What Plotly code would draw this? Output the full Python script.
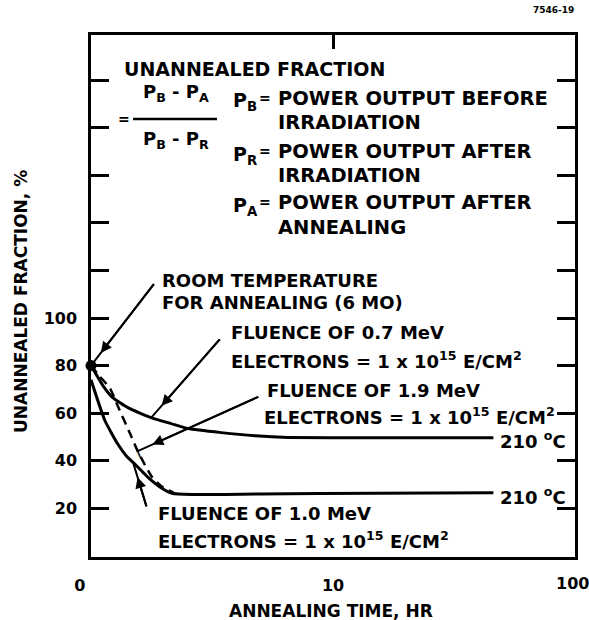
import math
import plotly.graph_objects as go

# Annealing time (hr) and unannealed fraction (%) for each electron fluence
time_07mev = [1, 1.12, 1.23, 1.42, 1.77, 2.14, 2.52, 3.45, 4.76, 6.5, 15, 46]
frac_07mev = [80, 71.6, 66.5, 62.3, 58.1, 55.6, 53.5, 51.8, 50.5, 49.8, 49.6, 49.6]

time_19mev = [1, 1.08, 1.2, 1.29, 1.45, 1.56, 1.79, 1.98, 2.2]
frac_19mev = [80, 75.8, 70.3, 63, 51.4, 44, 33, 28.8, 26.5]

time_10mev = [1, 1.14, 1.29, 1.4, 1.52, 1.72, 1.97, 2.16, 2.6, 5, 15, 46]
frac_10mev = [74, 57, 47, 42, 38.5, 33, 28.3, 26.3, 25.8, 26, 26.3, 26.5]

room_temp_time = [1]
room_temp_frac = [80]

x_tickvals = [1, 10, 100]
x_ticktext = ["0\u00a0\u00a0\u00a0\u00a0", "10", ""]
x_end_label = "100"
y_tickvals = [20, 40, 60, 80, 100, 120, 140, 160, 180, 200]
y_ticktext = ["20", "40", "60", "80", "100", "", "", "", "", ""]

W, H = 589, 620
PL, PR, PT, PB = 91, 575, 35, 557
FONT = "DejaVu Sans"


def fx(xp):
    return (xp - PL) / (PR - PL)


def fy(yp):
    return (PB - yp) / (PB - PT)


fig = go.Figure()
fig.add_trace(go.Scatter(x=time_07mev, y=frac_07mev, mode="lines",
                         line=dict(shape="spline", smoothing=0.5, color="black", width=3)))
fig.add_trace(go.Scatter(x=time_19mev, y=frac_19mev, mode="lines",
                         line=dict(shape="spline", smoothing=0.5, dash="9px,6px",
                                   color="black", width=2.5)))
fig.add_trace(go.Scatter(x=time_10mev, y=frac_10mev, mode="lines",
                         line=dict(shape="spline", smoothing=0.5, color="black", width=3)))
fig.add_trace(go.Scatter(x=room_temp_time, y=room_temp_frac, mode="markers",
                         xaxis="x2", cliponaxis=False,
                         marker=dict(color="black", size=11)))

annotations = []


def text(t, xp, yp, size=18, xanchor="left", yanchor="middle", **kw):
    annotations.append(dict(text=t, x=fx(xp), y=fy(yp), xref="paper", yref="paper",
                            xanchor=xanchor, yanchor=yanchor, showarrow=False,
                            font=dict(family=FONT, size=size, color="black", weight="bold"),
                            **kw))


def arrow(tx, ty, ax, ay):
    # plain shaft running to the curve, then a head set back from the tip
    base = dict(x=math.log10(tx), y=ty, xref="x", yref="y", axref="pixel", ayref="pixel",
                ax=ax, ay=ay, text="", showarrow=True, arrowcolor="black")
    annotations.append(dict(base, arrowhead=0, arrowwidth=2))
    annotations.append(dict(base, arrowhead=2, arrowwidth=2, arrowsize=1.1, standoff=16))


# definition block
text("UNANNEALED FRACTION", 122, 69, size=19)
text("P<sub>B</sub> - P<sub>A</sub>", 176, 93, xanchor="center")
text("P<sub>B</sub> - P<sub>R</sub>", 176, 140, xanchor="center")
text("=", 124, 119, size=14, xanchor="center")
fig.add_shape(type="line", xref="paper", yref="paper", x0=fx(133), x1=fx(217),
              y0=fy(119), y1=fy(119), line=dict(color="black", width=2.5))

for sub, yrow, lines in [("B", 98, ("POWER OUTPUT BEFORE", "IRRADIATION")),
                         ("R", 151, ("POWER OUTPUT AFTER", "IRRADIATION")),
                         ("A", 202, ("POWER OUTPUT AFTER", "ANNEALING"))]:
    text("P<sub>%s</sub>" % sub, 231, yrow + 4, size=19)
    text("=", 265, yrow, size=14, xanchor="center")
    text(lines[0], 276, yrow, size=19.5)
    text(lines[1], 276, yrow + 25, size=19.5)

# curve labels
text("ROOM TEMPERATURE", 160, 280)
text("FOR ANNEALING (6 MO)", 160, 302)
text("FLUENCE OF 0.7 MeV", 229, 332)
text("ELECTRONS = 1 x 10<sup>15</sup> E/CM<sup>2</sup>", 229, 360)
text("FLUENCE OF 1.9 MeV", 265, 390)
text("ELECTRONS = 1 x 10<sup>15</sup> E/CM<sup>2</sup>", 262, 416)
text("FLUENCE OF 1.0 MeV", 156, 513)
text("ELECTRONS = 1 x 10<sup>15</sup> E/CM<sup>2</sup>", 156, 540)
text("210 <sup>o</sup>C", 498, 440)
text("210 <sup>o</sup>C", 498, 496)

# arrows from the labels onto the curves
arrow(1.0, 80, 64, -83)
arrow(1.77, 58, 70, -80)
arrow(1.56, 44, 122, -55)
arrow(1.49, 39.5, 14, 46)
# cross bar where the 1.9 MeV pointer meets its curve
annotations.append(dict(text="|", x=math.log10(1.56), y=44, xref="x", yref="y",
                        showarrow=False, textangle=-24, xanchor="center", yanchor="middle",
                        font=dict(family=FONT, size=14, color="black", weight="bold")))

# right-hand x label, kept inside the page
text(x_end_label, 572, 583, size=16, xanchor="center")

# titles and figure number
text("UNANNEALED FRACTION, %", 21, 302, size=17, xanchor="center", textangle=-90)
text("ANNEALING TIME, HR", 331, 611, size=17, xanchor="center")
text("7546-19", 553, 10, size=9, xanchor="center")

axis_font = dict(family=FONT, size=16, color="black", weight="bold")
fig.update_layout(
    width=W, height=H, autosize=False,
    margin=dict(l=PL, r=W - PR, t=PT, b=H - PB, pad=0),
    paper_bgcolor="white", plot_bgcolor="white",
    showlegend=False,
    font=dict(family=FONT, color="black", weight="bold"),
    annotations=annotations,
    xaxis=dict(type="log", range=[0, 2], tickvals=x_tickvals, ticktext=x_ticktext,
               ticks="", showline=True, mirror=True, linecolor="black", linewidth=2.5,
               showgrid=False, zeroline=False, tickfont=axis_font, ticklabelstandoff=12),
    xaxis2=dict(type="log", range=[0, 2], overlaying="x", side="top", anchor="y",
                tickvals=[10], ticks="inside", ticklen=14, tickwidth=2.5,
                tickcolor="black", showticklabels=False, showline=False,
                showgrid=False, zeroline=False),
    yaxis=dict(range=[-0.5, 219], tickvals=y_tickvals, ticktext=y_ticktext,
               ticks="inside", ticklen=18, tickwidth=2.5, tickcolor="black",
               showline=True, mirror="ticks", linecolor="black", linewidth=2.5,
               showgrid=False, zeroline=False, tickfont=axis_font, ticklabelstandoff=8),
)

fig.write_html("out.html")
